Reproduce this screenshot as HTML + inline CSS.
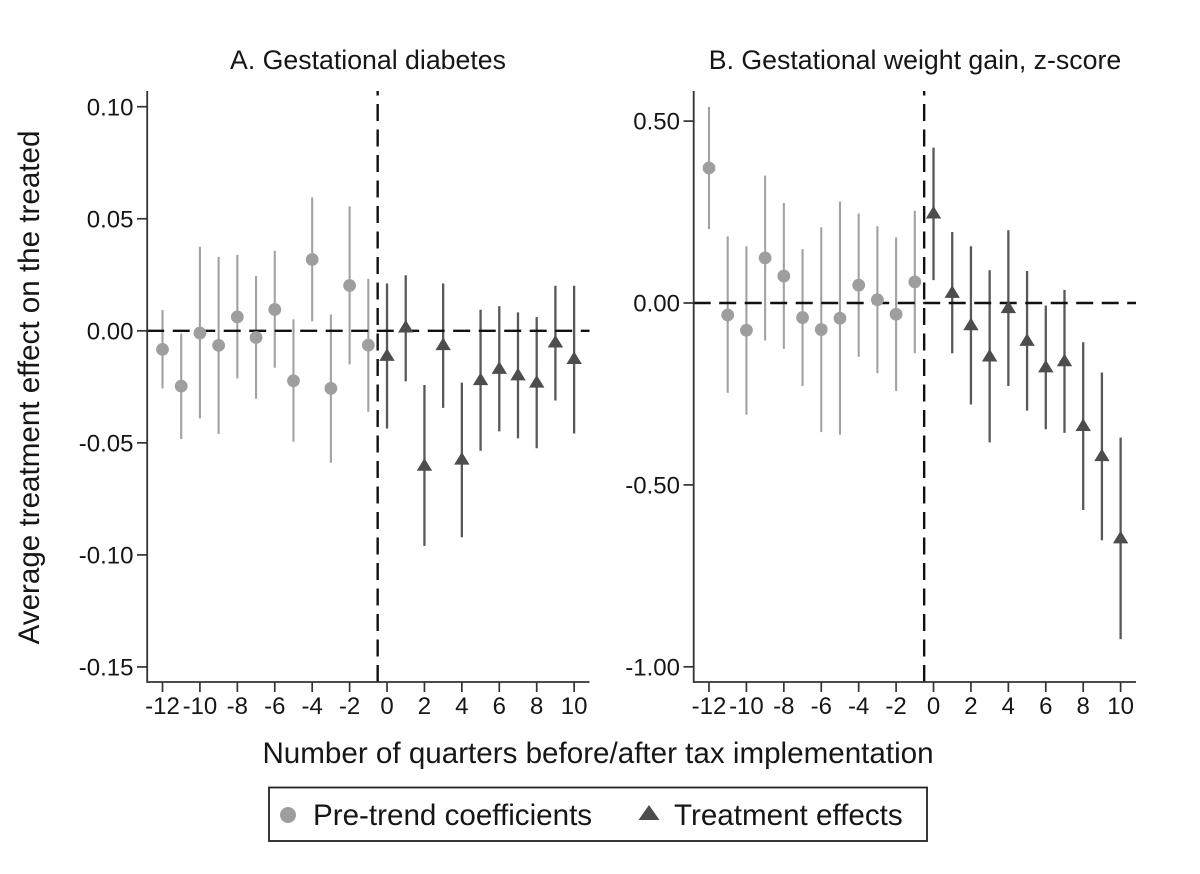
<!DOCTYPE html>
<html lang="en">
<head>
<meta charset="utf-8">
<title>Average treatment effect event-study panels</title>
<style>
html,body{margin:0;padding:0;background:#fff;width:1200px;height:874px;overflow:hidden}
svg{display:block}
text{font-family:"Liberation Sans",Arial,sans-serif;fill:#161616}
.tick{font-size:24px}
.ptitle{font-size:26.7px}
.atitle{font-size:29.6px}
.ltext{font-size:29.6px}
</style>
</head>
<body>
<svg id="chart" width="1200" height="874" viewBox="0 0 1200 874" xmlns="http://www.w3.org/2000/svg">
  <rect x="0" y="0" width="1200" height="874" fill="#fff"/>
  <g id="panel-a"></g>
  <g id="panel-b"></g>
  <text class="ptitle" x="368" y="69" text-anchor="middle">A. Gestational diabetes</text>
  <text class="ptitle" x="915" y="69" text-anchor="middle">B. Gestational weight gain, z-score</text>
  <text class="atitle" transform="translate(39,387.5) rotate(-90)" text-anchor="middle">Average treatment effect on the treated</text>
  <text class="atitle" x="598" y="763" text-anchor="middle">Number of quarters before/after tax implementation</text>
  <g>
    <rect x="269" y="787.5" width="658" height="53.5" fill="#fff" stroke="#222" stroke-width="1.8"/>
    <circle cx="288" cy="815" r="8" fill="#9e9e9e"/>
    <text class="ltext" x="313" y="825">Pre-trend coefficients</text>
    <polygon points="649,805 659.5,820 638.5,820" fill="#4d4d4d"/>
    <text class="ltext" x="674" y="825">Treatment effects</text>
  </g>
</svg>
<script>
// Shared categories and tick labels
const preQuarters = [-12,-11,-10,-9,-8,-7,-6,-5,-4,-3,-2,-1];
const postQuarters = [0,1,2,3,4,5,6,7,8,9,10];
const xTicks = [-12,-10,-8,-6,-4,-2,0,2,4,6,8,10];
const eventLine = -0.5;

// Panel A: gestational diabetes
const aYTicks = [0.10,0.05,0,-0.05,-0.10,-0.15];
const aPre = [-0.0083,-0.0247,-0.0010,-0.0065,0.0062,-0.0030,0.0095,-0.0223,0.0318,-0.0257,0.0202,-0.0064];
const aPreHi = [0.0092,-0.0012,0.0375,0.0330,0.0339,0.0244,0.0357,0.0051,0.0595,0.0073,0.0555,0.0232];
const aPreLo = [-0.0257,-0.0483,-0.0391,-0.0460,-0.0213,-0.0303,-0.0165,-0.0495,0.0042,-0.0589,-0.0150,-0.0361];
const aPost = [-0.0112,0.0015,-0.0602,-0.0064,-0.0575,-0.0220,-0.0170,-0.0199,-0.0231,-0.0052,-0.0126];
const aPostHi = [0.0211,0.0248,-0.0242,0.0211,-0.0231,0.0094,0.0110,0.0082,0.0061,0.0201,0.0201];
const aPostLo = [-0.0436,-0.0225,-0.0960,-0.0344,-0.0921,-0.0535,-0.0449,-0.0480,-0.0524,-0.0311,-0.0458];

// Panel B: gestational weight gain, z-score
const bYTicks = [0.50,0,-0.50,-1.00];
const bPre = [0.371,-0.033,-0.075,0.124,0.074,-0.040,-0.073,-0.042,0.049,0.009,-0.031,0.058];
const bPreHi = [0.539,0.183,0.156,0.350,0.275,0.148,0.208,0.279,0.246,0.211,0.180,0.254];
const bPreLo = [0.203,-0.247,-0.307,-0.103,-0.126,-0.228,-0.355,-0.362,-0.148,-0.193,-0.242,-0.138];
const bPost = [0.246,0.028,-0.061,-0.147,-0.014,-0.104,-0.177,-0.160,-0.338,-0.421,-0.647];
const bPostHi = [0.427,0.195,0.156,0.090,0.200,0.088,-0.007,0.036,-0.108,-0.191,-0.370];
const bPostLo = [0.063,-0.138,-0.279,-0.383,-0.228,-0.296,-0.347,-0.357,-0.569,-0.652,-0.924];

const NS = 'http://www.w3.org/2000/svg';
function mk(parent, tag, attrs){
  const el = document.createElementNS(NS, tag);
  for (const k in attrs) el.setAttribute(k, attrs[k]);
  parent.appendChild(el);
  return el;
}

function drawPanel(opts){
  const g = document.getElementById(opts.id);
  const xS = q => opts.x0 + (q + 12) * 18.71;
  const yS = v => opts.y0 - v * opts.yScale;
  const axisBottom = 682, axisTop = 91;
  const axisColor = '#333';

  // Error bars: pre-trend
  opts.preHi.forEach((hi, i) => {
    const el = mk(g, 'line', {x1:xS(preQuarters[i]), x2:xS(preQuarters[i]), y1:yS(hi), y2:yS(opts.preLo[i]), stroke:'#a2a2a2', 'stroke-width':2.1});
    
    
  });
  // Error bars: treatment
  opts.postHi.forEach((hi, i) => {
    const el = mk(g, 'line', {x1:xS(postQuarters[i]), x2:xS(postQuarters[i]), y1:yS(hi), y2:yS(opts.postLo[i]), stroke:'#585858', 'stroke-width':2.3});
    
    
  });

  // Reference lines
  const zero = mk(g, 'line', {x1:opts.x0 - 15.3, x2:opts.x0 + 427, y1:yS(0), y2:yS(0), stroke:'#111', 'stroke-width':2.4, 'stroke-dasharray':'17 8.5'});
  
  
  const vline = mk(g, 'line', {x1:xS(eventLine), x2:xS(eventLine), y1:axisBottom, y2:axisTop, stroke:'#111', 'stroke-width':2.4, 'stroke-dasharray':'17 8.5'});
  
  

  // Axes
  const yAxis = mk(g, 'line', {x1:opts.x0 - 15.3, x2:opts.x0 - 15.3, y1:axisTop, y2:axisBottom + 0.9, stroke:axisColor, 'stroke-width':1.8});
  
  
  const xAxis = mk(g, 'line', {x1:opts.x0 - 15.3, x2:opts.x0 + 427, y1:axisBottom, y2:axisBottom, stroke:axisColor, 'stroke-width':1.8});
  
  

  // X ticks
  xTicks.forEach(q => {
    const t = mk(g, 'line', {x1:xS(q), x2:xS(q), y1:axisBottom, y2:axisBottom + 10, stroke:axisColor, 'stroke-width':1.7});
    
    
    const lab = mk(g, 'text', {x:xS(q), y:714, 'text-anchor':'middle', class:'tick'});
    
    
    lab.textContent = String(q);
  });
  // Y ticks
  opts.yTicks.forEach(v => {
    const t = mk(g, 'line', {x1:opts.x0 - 25.5, x2:opts.x0 - 15.3, y1:yS(v), y2:yS(v), stroke:axisColor, 'stroke-width':1.7});
    
    
    const lab = mk(g, 'text', {x:opts.x0 - 29, y:yS(v) + 8.6, 'text-anchor':'end', class:'tick'});
    
    
    lab.textContent = v.toFixed(2);
  });

  // Markers
  opts.pre.forEach((v, i) => {
    const c = mk(g, 'circle', {cx:xS(preQuarters[i]), cy:yS(v), r:6.4, fill:'#9e9e9e'});
    
    
  });
  opts.post.forEach((v, i) => {
    const x = xS(postQuarters[i]), y = yS(v);
    const p = mk(g, 'polygon', {points:(x)+','+(y-7.6)+' '+(x+7.7)+','+(y+5)+' '+(x-7.7)+','+(y+5), fill:'#4d4d4d'});
    
    
  });
}

drawPanel({id:'panel-a', x0:162.5, y0:330.8, yScale:2241, yTicks:aYTicks, pre:aPre, preHi:aPreHi, preLo:aPreLo, post:aPost, postHi:aPostHi, postLo:aPostLo});
drawPanel({id:'panel-b', x0:709, y0:303, yScale:363.8, yTicks:bYTicks, pre:bPre, preHi:bPreHi, preLo:bPreLo, post:bPost, postHi:bPostHi, postLo:bPostLo});
</script>
</body>
</html>
